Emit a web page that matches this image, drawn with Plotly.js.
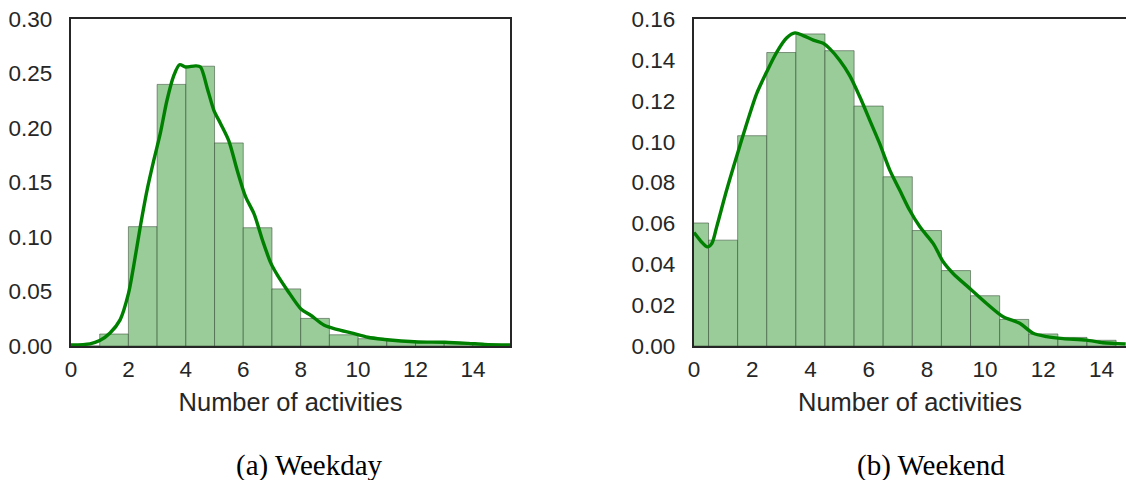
<!DOCTYPE html>
<html>
<head>
<meta charset="utf-8">
<script src="https://cdn.plot.ly/plotly-3.0.1.min.js"></script>
<style>html,body{margin:0;padding:0;background:#fff;}#chart{width:1126px;height:480px;}</style>
</head>
<body>
<div id="chart"></div>
<script>
// ---- Data ----
// Weekday histogram: integer bins [k, k+1)
const weekdayBinCenters = [0.5, 1.5, 2.5, 3.5, 4.5, 5.5, 6.5, 7.5, 8.5, 9.5, 10.5, 11.5, 12.5, 13.5, 14.5];
const weekdayDensity = [0.0, 0.011, 0.1095, 0.240, 0.2567, 0.1863, 0.1085, 0.0524, 0.0253, 0.0103, 0.0067, 0.0048, 0.0035, 0.0025, 0.0015];
const weekdayKdeX = [0, 0.66, 1.0, 1.36, 1.71, 2.0, 2.18, 2.41, 2.65, 2.88, 3.11, 3.34, 3.58, 3.78, 3.99, 4.34, 4.51, 4.74, 4.98, 5.21, 5.50, 5.79, 6.08, 6.38, 6.67, 6.96, 7.19, 7.54, 8.01, 8.36, 8.82, 9.29, 9.76, 10.34, 10.92, 11.5, 12.09, 13.02, 13.83, 14.4, 15.3];
const weekdayKdeY = [0.001, 0.002, 0.005, 0.012, 0.024, 0.048, 0.073, 0.109, 0.143, 0.170, 0.195, 0.225, 0.248, 0.258, 0.256, 0.257, 0.256, 0.237, 0.216, 0.204, 0.188, 0.161, 0.137, 0.121, 0.097, 0.076, 0.065, 0.051, 0.034, 0.028, 0.019, 0.015, 0.012, 0.008, 0.006, 0.0046, 0.0037, 0.0034, 0.0024, 0.0015, 0.001];

// Weekend histogram: bins centred on integers
const weekendBinCenters = [0, 1, 2, 3, 4, 5, 6, 7, 8, 9, 10, 11, 12, 13, 14];
const weekendDensity = [0.0602, 0.0518, 0.1029, 0.1436, 0.1527, 0.1445, 0.1174, 0.0828, 0.0565, 0.0369, 0.0246, 0.0130, 0.0059, 0.0042, 0.0028];
const weekendKdeX = [0, 0.03, 0.26, 0.46, 0.61, 0.78, 1.12, 1.46, 1.81, 2.15, 2.49, 2.84, 3.18, 3.47, 3.75, 4.10, 4.44, 4.67, 5.01, 5.35, 5.70, 6.04, 6.38, 6.73, 7.07, 7.41, 7.76, 8.22, 8.56, 8.90, 9.47, 10.05, 10.62, 11.19, 11.65, 12.11, 12.68, 13.48, 14.05, 14.83];
const weekendKdeY = [0.0555, 0.0550, 0.0509, 0.0485, 0.0501, 0.0583, 0.0762, 0.0925, 0.1087, 0.1234, 0.1339, 0.1437, 0.1507, 0.1532, 0.1519, 0.1497, 0.1481, 0.1454, 0.1397, 0.1323, 0.1218, 0.1104, 0.0990, 0.0859, 0.0762, 0.0664, 0.0583, 0.0501, 0.0412, 0.0355, 0.0282, 0.0208, 0.0143, 0.0111, 0.0062, 0.0046, 0.0036, 0.0029, 0.0016, 0.0010];

const xTicks = [0, 2, 4, 6, 8, 10, 12, 14];
const xTitle = "Number of activities";
const captions = ["(a) Weekday", "(b) Weekend"];

// ---- Styling ----
const barFill = "rgb(153,204,153)";
const barEdge = "rgba(40,60,40,0.5)";
const kdeColor = "#008000";
const axisColor = "#262626";
const sans = "Liberation Sans, Arial, sans-serif";

const traces = [
  {type: "bar", x: weekdayBinCenters, y: weekdayDensity, width: 1, xaxis: "x", yaxis: "y",
   marker: {color: barFill, line: {color: barEdge, width: 1}}, hoverinfo: "x+y"},
  {type: "scatter", mode: "lines", x: weekdayKdeX, y: weekdayKdeY, xaxis: "x", yaxis: "y",
   line: {color: kdeColor, width: 3.4, shape: "spline", smoothing: 0.8}},
  {type: "bar", x: weekendBinCenters, y: weekendDensity, width: 1, xaxis: "x2", yaxis: "y2",
   marker: {color: barFill, line: {color: barEdge, width: 1}}, hoverinfo: "x+y"},
  {type: "scatter", mode: "lines", x: weekendKdeX, y: weekendKdeY, xaxis: "x2", yaxis: "y2",
   line: {color: kdeColor, width: 3.4, shape: "spline", smoothing: 0.8}}
];

function xAxis(domain, range, mirror, anchor) {
  return {
    domain: domain, range: range, anchor: anchor,
    tickvals: xTicks, ticks: "outside", ticklen: 2, tickcolor: "rgba(0,0,0,0)",
    showgrid: false, zeroline: false, showline: true, mirror: mirror,
    linecolor: axisColor, linewidth: 2.2,
    tickfont: {family: sans, size: 22.5, color: axisColor},
    title: {text: xTitle, font: {family: sans, size: 25.5, color: axisColor}, standoff: 12}
  };
}
function yAxis(range, dtick, mirror, anchor) {
  return {
    domain: [0, 1], range: range, anchor: anchor, dtick: dtick, tick0: 0, tickformat: ".2f",
    ticks: "outside", ticklen: 12, tickcolor: "rgba(0,0,0,0)",
    showgrid: false, zeroline: false, showline: true, mirror: mirror,
    linecolor: axisColor, linewidth: 2.2,
    tickfont: {family: sans, size: 22.5, color: axisColor}
  };
}

const layout = {
  width: 1126, height: 480,
  margin: {l: 71, r: 0, t: 19, b: 134, pad: 0},
  paper_bgcolor: "#ffffff", plot_bgcolor: "#ffffff",
  showlegend: false, bargap: 0,
  xaxis: xAxis([0, 0.4161], [0, 15.29], true, "y"),
  yaxis: yAxis([0, 0.30], 0.05, true, "x"),
  xaxis2: xAxis([0.5905, 1], [0, 14.84], true, "y2"),
  yaxis2: yAxis([0, 0.16], 0.02, false, "x2"),
  annotations: [
    {text: captions[0], xref: "paper", yref: "paper", x: 0.2256, y: -0.364, xanchor: "center", yanchor: "middle",
     showarrow: false, font: {family: "Liberation Serif, Times New Roman, serif", size: 29, color: "#000"}},
    {text: captions[1], xref: "paper", yref: "paper", x: 0.8152, y: -0.364, xanchor: "center", yanchor: "middle",
     showarrow: false, font: {family: "Liberation Serif, Times New Roman, serif", size: 29, color: "#000"}}
  ]
};

Plotly.newPlot("chart", traces, layout, {displayModeBar: false, staticPlot: true});
</script>
</body>
</html>
